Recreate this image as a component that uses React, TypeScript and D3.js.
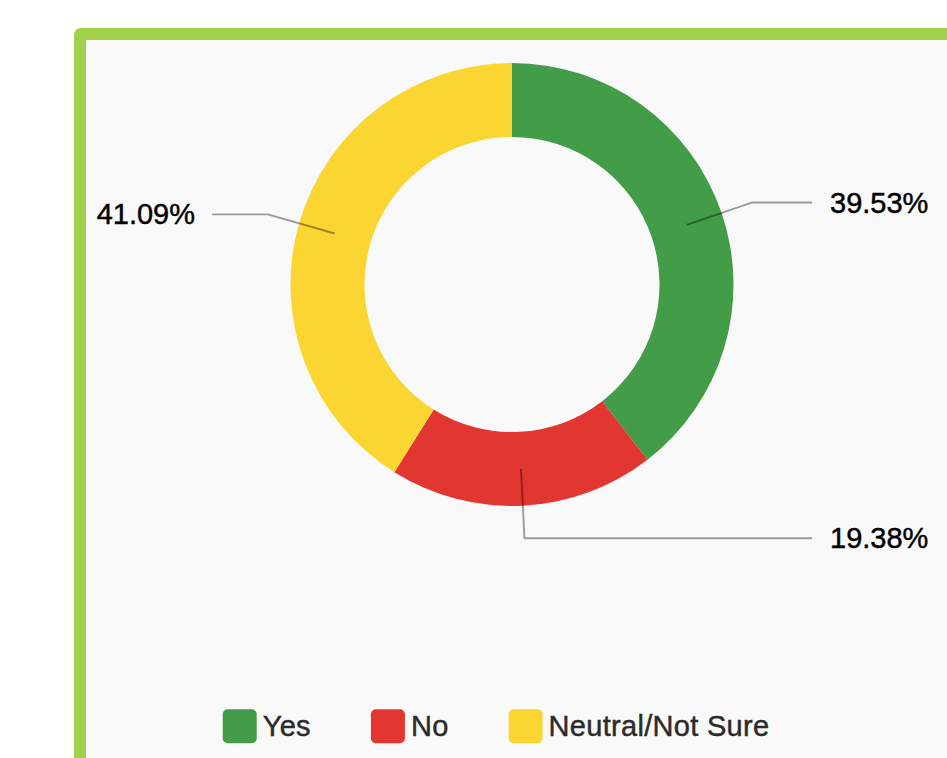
import React, { useEffect, useRef } from "react";
import * as d3 from "d3";

const categories = ["Yes", "No", "Neutral/Not Sure"];
const values = [39.53, 19.38, 41.09];
const labels = ["39.53%", "19.38%", "41.09%"];
const colors = ["#439c47", "#e23631", "#fbd633"];

const W = 947;
const H = 758;

export default function App() {
  const ref = useRef<SVGSVGElement>(null);

  useEffect(() => {
    const svg = d3.select(ref.current);
    svg.selectAll("*").remove();

    // frame
    svg.append("rect").attr("x", 0).attr("y", 0).attr("width", W).attr("height", H).attr("fill", "#ffffff");
    svg.append("rect")
      .attr("x", 74).attr("y", 28).attr("width", 1000).attr("height", 1000)
      .attr("rx", 7).attr("fill", "#a3d04b");
    svg.append("rect")
      .attr("x", 86).attr("y", 40).attr("width", 1000).attr("height", 1000)
      .attr("fill", "#f9f9f9");

    const cx = 512, cy = 284.5;
    const outerR = 221.5, innerR = 147.5;
    const g = svg.append("g").attr("transform", `translate(${cx},${cy})`);

    const pie = d3.pie<number>().sort(null).value((d) => d);
    const arcs = pie(values);
    const arc = d3.arc<d3.PieArcDatum<number>>().innerRadius(innerR).outerRadius(outerR);

    g.selectAll("path.slice").data(arcs).enter().append("path")
      .attr("class", "slice")
      .attr("d", arc)
      .attr("fill", (_, i) => colors[i]);

    const font = "'Liberation Sans', Arial, Helvetica, sans-serif";
    const midR = (innerR + outerR) / 2;
    const elbowR = 254;
    arcs.forEach((a, i) => {
      const mid = (a.startAngle + a.endAngle) / 2;
      const p0 = [midR * Math.sin(mid), -midR * Math.cos(mid)];
      const p1 = [elbowR * Math.sin(mid), -elbowR * Math.cos(mid)];
      const right = Math.sin(mid) >= 0;
      const p2 = [right ? 300 : -300, p1[1]];
      g.append("path")
        .attr("d", d3.line()([p0 as [number, number], p1 as [number, number], p2 as [number, number]]))
        .attr("fill", "none")
        .attr("stroke", "rgba(0,0,0,0.38)")
        .attr("stroke-width", 1.9);
      g.append("text")
        .attr("x", right ? 318 : -317)
        .attr("y", p1[1])
        .attr("dy", "0.35em")
        .attr("text-anchor", right ? "start" : "end")
        .attr("font-family", font)
        .attr("font-size", 29)
        .attr("fill", "#000")
        .attr("stroke", "#000")
        .attr("stroke-width", 0.45)
        .text(labels[i]);
    });

    // legend
    let x = 222.7;
    const ly = 709.3;
    categories.forEach((c, i) => {
      svg.append("rect")
        .attr("x", x).attr("y", ly).attr("width", 34).attr("height", 34)
        .attr("rx", 5).attr("fill", colors[i]);
      const t = svg.append("text")
        .attr("x", x + 40).attr("y", 736)
        .attr("font-family", font)
        .attr("font-size", 29)
        .attr("letter-spacing", 0.3)
        .attr("fill", "#2b2b2b")
        .attr("stroke", "#2b2b2b")
        .attr("stroke-width", 0.45)
        .text(c);
      const w = (t.node() as SVGTextElement).getComputedTextLength();
      x = x + 40 + w + 60;
    });
  }, []);

  return (
    <div style={{ position: "fixed", left: 0, top: 0, width: W, height: H, overflow: "hidden" }}>
      <svg ref={ref} width={W} height={H} style={{ display: "block" }} />
    </div>
  );
}
